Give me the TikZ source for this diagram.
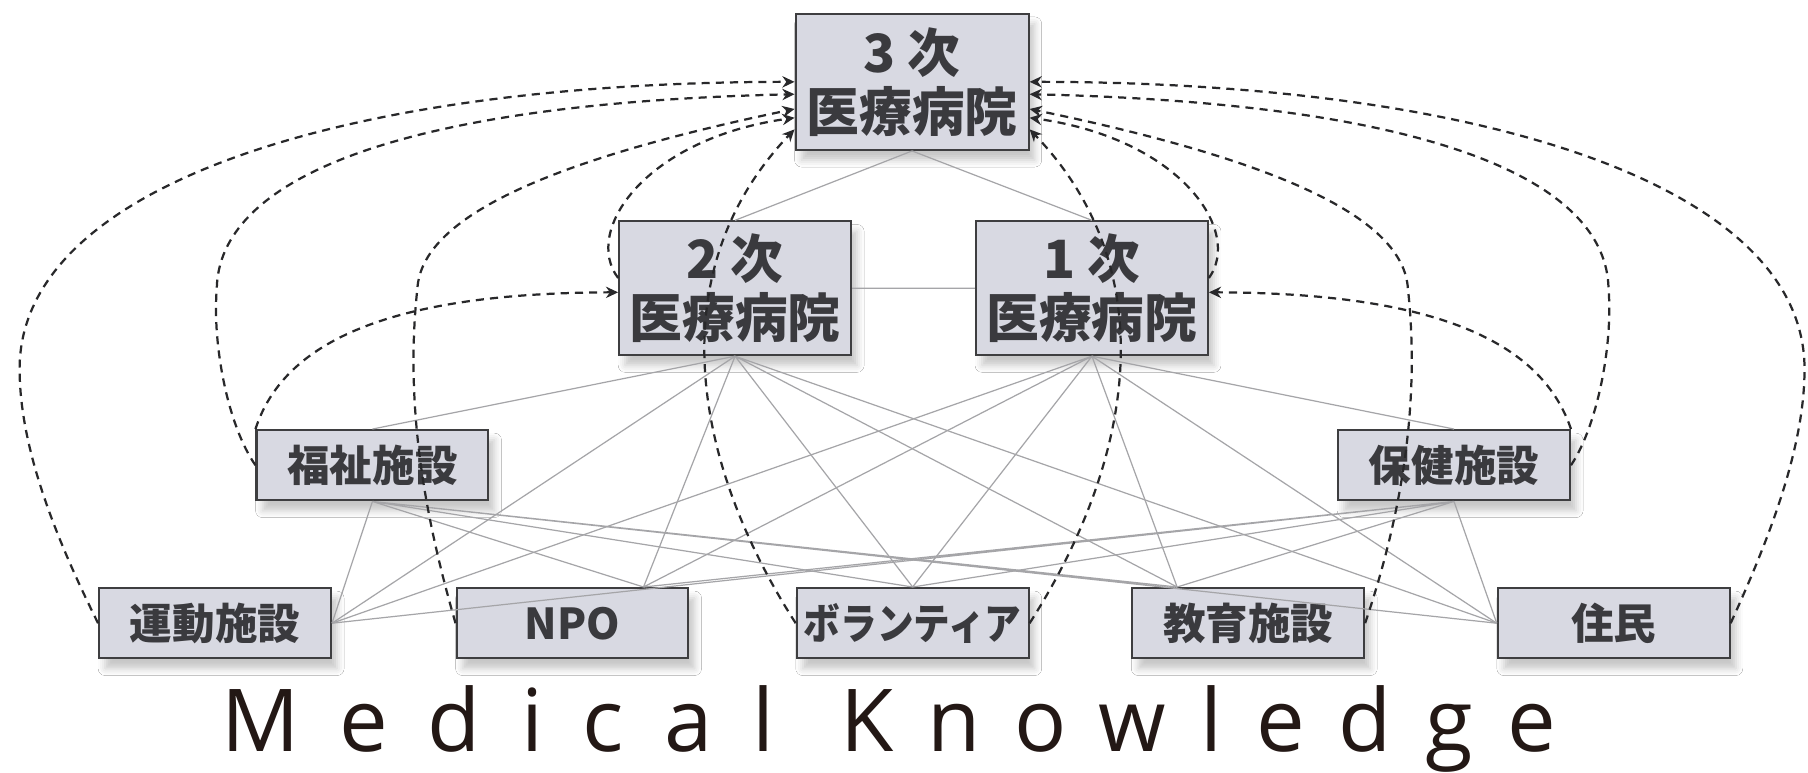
\documentclass[tikz,border=0pt]{standalone}
\usepackage{fontspec}
\usepackage{graphicx}
\usetikzlibrary{arrows.meta,shadows.blur}
\newfontfamily\jpfont{Noto Sans CJK JP}
\newfontfamily\enfont{Open Sans}[LetterSpace=46]
\definecolor{boxfill}{RGB}{216,217,226}
\definecolor{boxline}{RGB}{62,62,64}
\definecolor{labelgray}{RGB}{58,58,62}
\definecolor{linkgray}{RGB}{165,165,168}
\definecolor{dashgray}{RGB}{40,40,42}
\definecolor{titleink}{RGB}{35,24,21}
\tikzset{
  hosp/.style={draw=boxline,fill=boxfill,line width=0.5pt,minimum width=2.01cm,minimum height=1.16cm,
    inner sep=0pt,align=center,text=labelgray,font=\jpfont\bfseries\fontsize{13}{14.6}\selectfont,
    blur shadow={shadow xshift=1.5pt,shadow yshift=-2.5pt,shadow opacity=22}},
  fac/.style={hosp,minimum height=0.61cm,font=\jpfont\bfseries\fontsize{10.5}{12}\selectfont},
  link/.style={draw=linkgray,line width=0.3pt},
  refer/.style={->,draw=dashgray,line width=0.55pt,dash pattern=on 2pt off 1.5pt},
  heading/.style={anchor=base west,inner sep=0pt,text=titleink,font=\enfont\fontsize{21.4}{24}\selectfont}
}
\begin{document}
\begin{tikzpicture}[x=0.01cm,y=-0.01cm,>={Stealth[length=3pt,width=2.8pt]}]
    \fill[white] (0,0) rectangle (1568,667);
    % hospitals
    \node[hosp,minimum width=2.02cm,minimum height=1.18cm] (t3) at (791,71) {3 次\\医療病院};
    \node[hosp] (t2) at (637.5,250) {2 次\\医療病院};
    \node[hosp] (t1) at (947,250) {1 次\\医療病院};
    % facilities
    \node[fac] (welfare) at (323,403.5) {福祉施設};
    \node[fac] (health) at (1261,403.5) {保健施設};
    \node[fac] (sport) at (186.5,540.5) {運動施設};
    \node[fac] (npo) at (496.5,540.5) {NPO};
    \node[fac] (vol) at (791.5,540.5) {\scalebox{0.86}[1]{ボランティア}};
    \node[fac] (edu) at (1082.5,540.5) {教育施設};
    \node[fac] (res) at (1399.5,540.5) {住民};
    % caption
    \node[heading] (medical) at (191,652) {Medical};
    \node[heading] (knowledge) at (728,652) {\addfontfeature{LetterSpace=39}Knowledge};
    % network
    \draw[link] (t3.south) -- (t2.north) (t3.south) -- (t1.north) (t2.east) -- (t1.west)
        (t2.south) -- (welfare.north) (t1.south) -- (health.north);
    \draw[link] (t2.south) -- (sport.east) (t2.south) -- (npo.27) (t2.south) -- (vol.north) (t2.south) -- (edu.153) (t2.south) -- (res.west);
    \draw[link] (t1.south) -- (sport.east) (t1.south) -- (npo.27) (t1.south) -- (vol.north) (t1.south) -- (edu.153) (t1.south) -- (res.west);
    \draw[link] (welfare.south) -- (sport.east) (welfare.south) -- (npo.27) (welfare.south) -- (vol.north) (welfare.south) -- (edu.153) (welfare.south) -- (res.west);
    \draw[link] (health.south) -- (sport.east) (health.south) -- (npo.27) (health.south) -- (vol.north) (health.south) -- (edu.153) (health.south) -- (res.west);
    % referrals, left side
    \draw[refer] (sport.west) .. controls (50,470) and (17,390) .. (17,320)
        .. controls (17,160) and (300,71) .. (t3.west);
    \draw[refer] (welfare.west) .. controls (198,370) and (184,300) .. (188,250)
        .. controls (190,160) and (330,90) .. (t3.186);
    \draw[refer] (npo.west) .. controls (372,460) and (350,360) .. (362,250)
        .. controls (366,190) and (470,140) .. (t3.193);
    \draw[refer] (t2.175) .. controls (505,200) and (560,120) .. (t3.197);
    \draw[refer] (vol.west) .. controls (600,400) and (572,235) .. (t3.202);
    \draw[refer] (welfare.north west) .. controls (245,300) and (330,254) .. (t2.182);
    % referrals, right side
    \draw[refer] (res.east) .. controls (1533,470) and (1565,390) .. (1565,320)
        .. controls (1565,160) and (1283,71) .. (t3.east);
    \draw[refer] (health.east) .. controls (1385,370) and (1399,300) .. (1395,250)
        .. controls (1393,160) and (1253,90) .. (t3.354);
    \draw[refer] (edu.east) .. controls (1211,460) and (1233,360) .. (1221,250)
        .. controls (1217,190) and (1113,140) .. (t3.347);
    \draw[refer] (t1.5) .. controls (1078,200) and (1023,120) .. (t3.343);
    \draw[refer] (vol.east) .. controls (983,400) and (1011,235) .. (t3.338);
    \draw[refer] (health.north east) .. controls (1338,300) and (1253,254) .. (t1.358);
\end{tikzpicture}
\end{document}
